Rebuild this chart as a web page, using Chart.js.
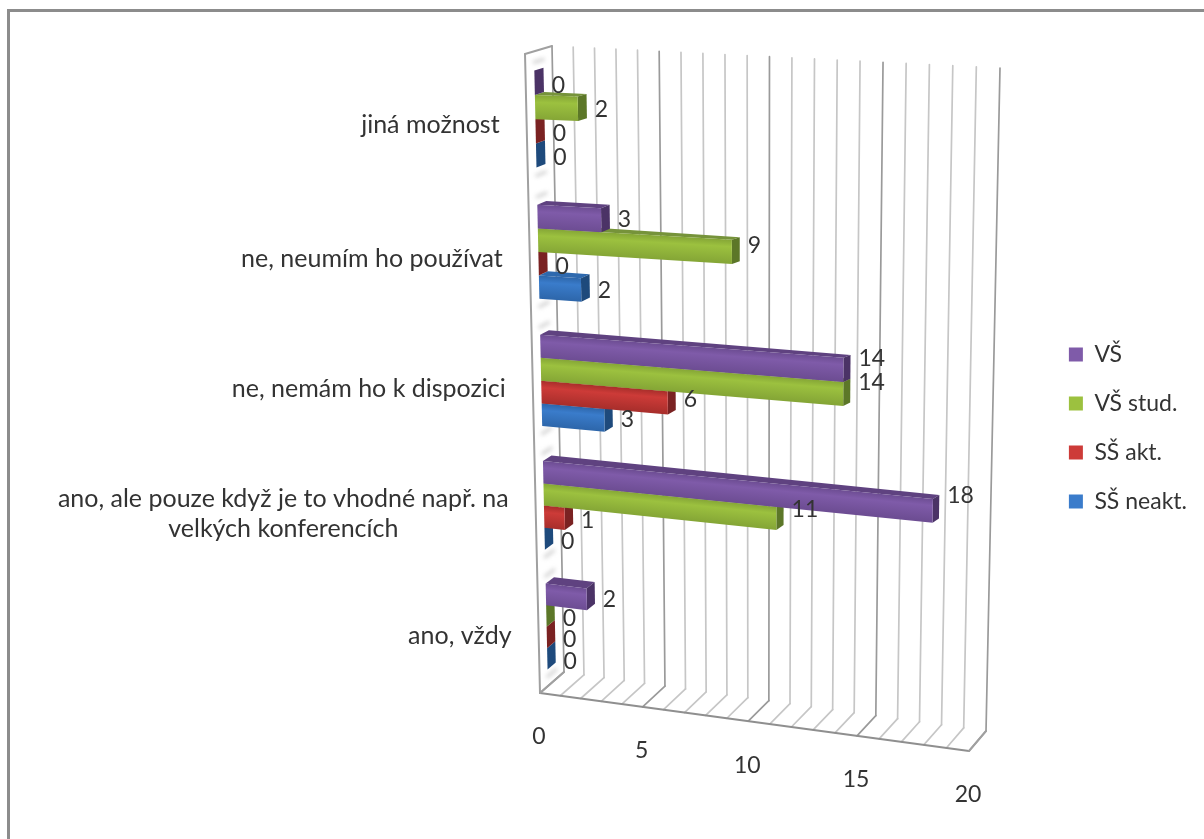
<!DOCTYPE html>
<html><head><meta charset="utf-8">
<style>html,body{margin:0;padding:0;background:#fff}canvas{display:block;filter:blur(.45px)}</style>
<script src="https://cdn.jsdelivr.net/npm/chart.js@4"></script>
</head><body>
<canvas id="c" width="1204" height="839"></canvas>
<script>
const categories = ["jiná možnost","ne, neumím ho používat","ne, nemám ho k dispozici",["ano, ale pouze když je to vhodné např. na","velkých konferencích"],"ano, vždy"];
const seriesNames = ["VŠ","VŠ stud.","SŠ akt.","SŠ neakt."];
const vs      = [0,3,14,18,2];
const vsStud  = [2,9,14,11,0];
const ssAkt   = [0,0,6,1,0];
const ssNeakt = [0,2,3,0,0];
const axisMax = 20;
const labelledTicks = [0,5,10,15,20];

// colours per series: legend/front, front dark end, top face, side face
const purple = ["#7F5BA9","#6D4D93","#5F4280","#4B3366"];
const green  = ["#9CC13F","#85A636","#76933A","#5C7728"];
const red    = ["#CD3B38","#A82E2B","#A33230","#7A2222"];
const blue   = ["#3A7CCB","#2D66AA","#2E69AE","#1E4A7C"];
const palette = [purple,green,red,blue];
const textColor = "#333333";
const FONT_NUM = "23px Lato";
const FONT_CAT = "25px Lato";

// corners of the 3-D plot box on screen: F=front, B=back; first digit x end, second digit y end
const box = {F00:[525,54],F10:[980,63],F01:[540,693],F11:[969,751],
             B00:[552,46],B10:[1000,68],B01:[564,672],B11:[986,731]};
const persp = (u,k)=>u/(u+k*(1-u));
const lerp = (a,b,u)=>[a[0]+(b[0]-a[0])*u,a[1]+(b[1]-a[1])*u];
function P(t,s,d){
  const tt=persp(t,1.06), ss=persp(s,0.927);
  const f=lerp(lerp(box.F00,box.F10,tt),lerp(box.F01,box.F11,tt),ss);
  const b=lerp(lerp(box.B00,box.B10,tt),lerp(box.B01,box.B11,tt),ss);
  return lerp(f,b,d);
}
function poly(ctx,pts,fill){
  ctx.beginPath();pts.forEach((p,i)=>i?ctx.lineTo(p[0],p[1]):ctx.moveTo(p[0],p[1]));ctx.closePath();
  ctx.fillStyle=fill;ctx.fill();
}
function line(ctx,a,b,c,w){ctx.strokeStyle=c;ctx.lineWidth=w;ctx.beginPath();ctx.moveTo(a[0],a[1]);ctx.lineTo(b[0],b[1]);ctx.stroke();}

const D0=0.33,D1=0.67;
let area=null;
// every bar goes through the library's scales, then through the 3-D box projection
Chart.BarElement.prototype.draw=function(ctx){
  const pal=palette.find(p=>p[0]===this.options.backgroundColor);
  const tv=px=>(px-area.left)/area.width, sv=py=>(py-area.top)/area.height;
  const t0=tv(this.base),t1=tv(this.x),s0=sv(this.y-this.height/2),s1=sv(this.y+this.height/2);
  ctx.save();
  poly(ctx,[P(t0,s0,D1),P(t1,s0,D1),P(t1,s0,D0),P(t0,s0,D0)],pal[2]);
  poly(ctx,[P(t1,s0,D0),P(t1,s0,D1),P(t1,s1,D1),P(t1,s1,D0)],pal[3]);
  if(t1>t0){
    // front face: gradient at right angles to the sloping top edge
    const a=P(t0,s0,D0),e=P(t1,s0,D0),b=P(t0,s1,D0);
    const ex=e[0]-a[0],ey=e[1]-a[1],len=Math.hypot(ex,ey),nx=-ey/len,ny=ex/len;
    const h=(b[0]-a[0])*nx+(b[1]-a[1])*ny;
    const g=ctx.createLinearGradient(a[0],a[1],a[0]+nx*h,a[1]+ny*h);
    g.addColorStop(0,pal[1]);g.addColorStop(.3,pal[0]);g.addColorStop(1,pal[1]);
    poly(ctx,[a,e,P(t1,s1,D0),b],g);
  }
  ctx.restore();
};

const scene={
  id:"scene",
  beforeDraw(chart){
    area=chart.chartArea;
    const ctx=chart.ctx;
    ctx.save();
    ctx.fillStyle="#fff";ctx.fillRect(0,0,chart.width,chart.height);
    ctx.strokeStyle="#8c8c8c";ctx.lineWidth=3;
    ctx.beginPath();ctx.moveTo(8.5,chart.height);ctx.lineTo(8.5,10.5);ctx.lineTo(chart.width,10.5);ctx.stroke();
    ctx.restore();
  },
  beforeDatasetsDraw(chart){
    const ctx=chart.ctx,x=chart.scales.x;
    ctx.save();ctx.lineCap="round";ctx.lineJoin="round";
    x.ticks.forEach(tk=>{
      const t=(x.getPixelForValue(tk.value)-area.left)/area.width;
      const major=tk.value%5===0;
      const c=major?"#9a9a9a":"#c6c6c6",w=1.7;
      line(ctx,P(t,1,0),P(t,1,1),c,w);
      line(ctx,P(t,1,1),P(t,0,1),c,w);
    });
    const c="#a0a0a0";
    line(ctx,P(0,0,0),P(0,1,0),c,2);
    line(ctx,P(0,0,0),P(0,0,1),c,2);
    line(ctx,P(0,1,0),P(1,1,0),"#8f8f8f",2);
    line(ctx,P(0,1,0),P(0,1,1),c,2);
    line(ctx,P(1,1,0),P(1,1,1),c,2);
    // soft shadow marks on the side wall above and below each category group
    const meta=chart.getDatasetMeta(0),metaL=chart.getDatasetMeta(chart.data.datasets.length-1);
    ctx.filter="blur(2px)";
    meta.data.forEach((el,i)=>{
      const top=(el.y-el.height/2-area.top)/area.height, bot=(metaL.data[i].y+metaL.data[i].height/2-area.top)/area.height;
      [top-.012,bot+.012].forEach(s=>line(ctx,P(0,s,D0),P(0,s,D1),"#cfcfcf",3));
    });
    ctx.filter="none";
    ctx.restore();
  },
  afterDatasetsDraw(chart){
    const ctx=chart.ctx,x=chart.scales.x,y=chart.scales.y;
    ctx.save();
    ctx.font=FONT_NUM;ctx.fillStyle=textColor;ctx.textBaseline="middle";
    // value labels
    chart.data.datasets.forEach((ds,di)=>{
      chart.getDatasetMeta(di).data.forEach((el,i)=>{
        const t=(el.x-area.left)/area.width,s=(el.y-area.top)/area.height;
        const f=P(t,s,D0),b=P(t,s,D1);
        ctx.textAlign="left";
        ctx.fillText(String(ds.data[i]),b[0]+8,f[1]+2.5-20*t);
      });
    });
    // value-axis labels under the floor's front edge
    ctx.textAlign="center";
    labelledTicks.forEach(v=>{
      const p=P((x.getPixelForValue(v)-area.left)/area.width,1,0);
      ctx.fillText(String(v),p[0]-1,p[1]+44);
    });
    // category labels left of the side wall
    ctx.font=FONT_CAT;
    categories.forEach((c,i)=>{
      const lines=Array.isArray(c)?c:[c];
      const s=(y.getPixelForValue(i)-area.top)/area.height;
      const p=P(0,s,0);
      const w=Math.max(...lines.map(l=>ctx.measureText(l).width));
      const cx=p[0]-27-w/2;
      const lh=30;
      lines.forEach((l,j)=>ctx.fillText(l,cx,p[1]+3+(j-(lines.length-1)/2)*lh));
    });
    ctx.restore();
  }
};

new Chart(document.getElementById("c"),{
  type:"bar",
  data:{labels:categories,datasets:[
    {label:seriesNames[0],data:vs,backgroundColor:purple[0]},
    {label:seriesNames[1],data:vsStud,backgroundColor:green[0]},
    {label:seriesNames[2],data:ssAkt,backgroundColor:red[0]},
    {label:seriesNames[3],data:ssNeakt,backgroundColor:blue[0]}
  ]},
  plugins:[scene],
  options:{
    indexAxis:"y",responsive:false,animation:false,
    layout:{padding:{top:17,right:7,left:10,bottom:0}},
    datasets:{bar:{categoryPercentage:0.72,barPercentage:1}},
    scales:{
      x:{display:false,min:0,max:axisMax,ticks:{stepSize:1,autoSkip:false,maxTicksLimit:30}},
      y:{display:false}
    },
    plugins:{
      tooltip:{enabled:false},
      legend:{position:"right",align:"center",labels:{boxWidth:14,boxHeight:14,padding:26,color:textColor,font:{family:"Lato",size:23}}}
    }
  }
});
</script>
</body></html>
